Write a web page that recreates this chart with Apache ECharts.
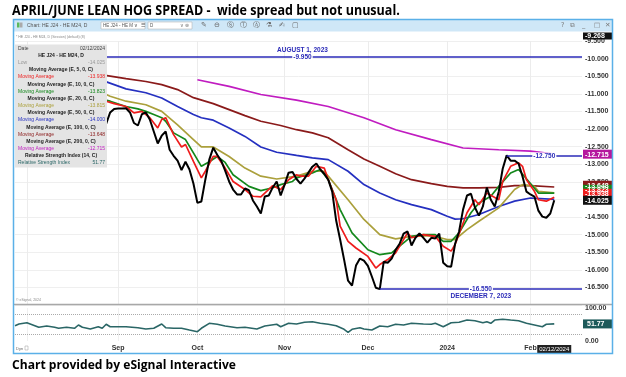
<!DOCTYPE html>
<html>
<head>
<meta charset="utf-8">
<script src="https://cdn.jsdelivr.net/npm/echarts@6/dist/echarts.min.js"></script>
<style>
html,body{margin:0;padding:0;background:#fff;}
#main{width:626px;height:377px;}
</style>
</head>
<body>
<div id="main"></div>
<script>
// trading days on the x axis
const firstDay = '2023-07-27';
const dayCount = 144;
const holidays = ['2023-09-04', '2023-11-23', '2023-12-25', '2024-01-01', '2024-01-15', '2024-02-19'];
const monthNames = ['Jan','Feb','Mar','Apr','May','Jun','Jul','Aug','Sep','Oct','Nov','Dec'];

// daily close HE J24 - HE M24, first value is trading day 23
const closeStart = 23;
const closeValues = [
  -11.85, -11.53, -11.43, -11.42, -11.42, -11.41, -11.53, -11.83, -11.90, -11.58,
  -11.53, -11.73, -12.07, -12.41, -12.19, -12.07, -12.59, -12.76, -12.90, -13.17,
  -12.93, -13.15, -13.55, -14.10, -14.06, -13.44, -12.87, -12.53, -12.73, -12.90,
  -13.18, -13.49, -13.72, -13.86, -13.86, -13.69, -13.74, -14.03, -14.20, -14.40,
  -13.92, -13.89, -13.66, -13.49, -13.89, -13.58, -13.24, -13.22, -13.42, -13.55,
  -13.41, -13.24, -13.07, -12.98, -13.15, -13.27, -13.44, -13.78, -14.60, -15.14,
  -15.71, -16.31, -16.45, -15.88, -15.68, -15.74, -15.89, -16.19, -16.51, -16.55,
  -15.77, -15.80, -15.68, -15.43, -15.26, -14.97, -14.91, -15.31, -15.09, -14.97,
  -15.09, -15.23, -15.09, -15.11, -14.97, -15.80, -15.90, -15.91, -15.26, -14.91,
  -14.29, -13.89, -13.84, -14.23, -14.46, -14.20, -13.66, -14.01, -14.20, -13.78,
  -13.13, -12.75, -12.90, -12.90, -12.98, -13.35, -13.78, -13.86, -13.92, -14.32,
  -14.49, -14.52, -14.40, -14.025
];

// moving averages: [trading day index, value]
const ema5 = [[23,-11.21],[25,-11.28],[28,-11.36],[30,-11.54],[32,-11.50],[34,-11.68],[36,-11.97],[37,-11.73],[38,-11.68],[40,-12.16],[42,-12.51],[43,-12.44],[45,-12.92],[47,-13.39],[48,-13.20],[50,-12.78],[51,-12.78],[53,-13.11],[55,-13.49],[58,-13.72],[60,-13.91],[62,-13.93],[63,-13.82],[65,-13.61],[67,-13.72],[69,-13.44],[71,-13.30],[72,-13.34],[74,-13.34],[76,-13.06],[78,-13.11],[79,-13.44],[81,-14.01],[82,-14.76],[84,-15.19],[86,-15.38],[89,-15.62],[91,-15.95],[92,-15.85],[94,-15.71],[96,-15.52],[99,-14.95],[100,-15.09],[103,-15.00],[106,-15.05],[108,-15.33],[110,-15.47],[111,-15.28],[114,-14.38],[116,-14.01],[117,-14.15],[119,-13.82],[122,-14.01],[123,-13.49],[125,-13.06],[127,-12.96],[128,-13.06],[129,-13.44],[131,-13.77],[132,-14.01],[134,-14.05],[136,-13.938]];
const ema10 = [[22,-11.16],[24,-11.21],[28,-11.36],[31,-11.43],[33,-11.50],[35,-11.59],[37,-11.68],[38,-11.78],[40,-12.11],[43,-12.30],[45,-12.68],[47,-13.06],[49,-12.93],[51,-12.78],[53,-12.95],[55,-13.30],[59,-13.63],[62,-13.75],[65,-13.67],[67,-13.58],[70,-13.49],[71,-13.39],[75,-13.25],[77,-13.15],[79,-13.44],[82,-14.29],[85,-14.95],[89,-15.43],[92,-15.57],[95,-15.52],[97,-15.33],[100,-15.05],[103,-15.00],[106,-15.00],[108,-15.19],[110,-15.19],[112,-14.95],[115,-14.38],[117,-14.10],[120,-13.91],[122,-13.63],[125,-13.25],[127,-13.15],[130,-13.55],[132,-13.82],[136,-13.823]];
const ema20 = [[22,-10.97],[24,-11.07],[28,-11.21],[33,-11.31],[37,-11.50],[41,-11.88],[45,-12.30],[47,-12.51],[50,-12.51],[54,-12.78],[58,-13.11],[62,-13.34],[66,-13.42],[71,-13.34],[75,-13.20],[78,-13.20],[79,-13.34],[84,-14.01],[88,-14.57],[92,-15.00],[96,-15.12],[100,-15.05],[105,-15.03],[109,-15.14],[111,-15.14],[114,-14.86],[117,-14.62],[122,-14.24],[126,-13.72],[128,-13.58],[131,-13.63],[132,-13.77],[136,-13.815]];
const ema50 = [[22,-10.62],[28,-10.86],[33,-10.97],[37,-11.12],[41,-11.36],[45,-11.59],[47,-11.68],[50,-11.75],[54,-11.97],[58,-12.21],[62,-12.51],[66,-12.66],[71,-12.75],[75,-12.82],[79,-12.87],[84,-13.20],[88,-13.58],[92,-13.82],[96,-14.01],[100,-14.15],[105,-14.29],[109,-14.48],[111,-14.56],[113,-14.55],[117,-14.43],[122,-14.20],[126,-14.05],[130,-13.96],[136,-14.00]];
const ema100 = [[22,-10.46],[28,-10.57],[33,-10.65],[37,-10.74],[41,-10.88],[45,-11.11],[50,-11.28],[54,-11.45],[58,-11.62],[62,-11.78],[67,-11.90],[71,-12.02],[75,-12.11],[79,-12.25],[84,-12.59],[88,-12.85],[92,-13.06],[96,-13.27],[100,-13.44],[105,-13.55],[109,-13.63],[113,-13.67],[117,-13.67],[122,-13.66],[126,-13.61],[130,-13.61],[136,-13.648]];
const ema200 = [[46,-10.60],[54,-10.79],[62,-11.02],[71,-11.18],[79,-11.36],[88,-11.68],[96,-12.02],[105,-12.30],[113,-12.54],[122,-12.59],[130,-12.63],[136,-12.715]];

// RSI(14): [trading day index, value]
const rsi14 = [[0,46.4],[1,51.5],[3,55.5],[5,46.4],[6,41.5],[8,45.5],[10,41.5],[11,38.5],[13,41.5],[15,38.5],[16,48.5],[17,41.5],[19,36.4],[21,43.3],[22,38.5],[23,50.6],[24,43.3],[26,43.3],[28,43.3],[31,40.3],[33,36.4],[35,38.5],[37,51.5],[38,40.3],[40,38.5],[42,38.5],[44,33.3],[46,28.2],[47,38.5],[49,53.6],[51,50.6],[53,45.5],[56,40.3],[58,41.5],[61,36.4],[63,45.5],[66,50.6],[67,43.3],[69,53.6],[71,51.5],[73,56.7],[75,58.5],[77,53.6],[79,50.6],[81,46.4],[83,35.5],[84,26.4],[85,35.5],[87,40.3],[88,36.4],[90,33.3],[92,45.5],[94,43.3],[96,50.6],[98,48.5],[100,53.6],[103,51.5],[105,50.6],[106,53.6],[108,43.3],[110,55.5],[112,56.7],[114,63.6],[116,61.5],[118,55.5],[119,58.5],[120,53.6],[121,63.6],[123,65.8],[125,63.6],[127,61.5],[129,53.6],[131,48.5],[133,43.3],[134,50.6],[136,51.77]];

// annotated levels: [trading day index, value]
const aug1High = [2, -9.95];
const dec7Low = [92, -16.55];
const janPeak = [124, -12.75];
const chartHigh = -9.268;

// build the trading day list
const dates = [];
(function () {
  const d = new Date(firstDay + 'T00:00:00Z');
  while (dates.length < dayCount) {
    const s = d.toISOString().slice(0, 10);
    const wd = d.getUTCDay();
    if (wd !== 0 && wd !== 6 && holidays.indexOf(s) < 0) dates.push(s);
    d.setUTCDate(d.getUTCDate() + 1);
  }
})();
const monthStart = dates.map((s, i) => i > 0 && s.slice(5, 7) !== dates[i - 1].slice(5, 7));
const lastIdx = dayCount - 1;
const closeIdx = closeStart + closeValues.length - 1;
const last = a => a[a.length - 1][1];

const C = {
  close: '#000000', e5: '#ee1c1c', e10: '#14881c', e20: '#aba03c',
  e50: '#2530c0', e100: '#8a1a1a', e200: '#c01cc0', rsi: '#2a6666', level: '#2b2bb8'
};
const axisFont = { fontFamily: 'Liberation Sans, Arial, sans-serif', fontSize: 7, fontWeight: 'bold', color: '#333' };

const chart = echarts.init(document.getElementById('main'), null, { renderer: 'canvas' });

function maLine(name, data, color, width) {
  return {
    name: name, type: 'line', data: data, xAxisIndex: 0, yAxisIndex: 0,
    symbol: 'none', connectNulls: true, silent: true,
    lineStyle: { color: color, width: width || 1.7 }, z: 3
  };
}
function levelLine(p) {
  return [{ coord: p }, { coord: [lastIdx, p[1]] }];
}

const option = {
  animation: false,
  backgroundColor: '#fff',
  grid: [
    { left: 15, right: 44, top: 41, height: 264 },
    { left: 15, right: 44, top: 308, height: 33 }
  ],
  xAxis: [
    {
      type: 'category', gridIndex: 0, data: dates, boundaryGap: false,
      axisLine: { show: false }, axisTick: { show: false }, axisLabel: { show: false },
      splitLine: { show: true, interval: i => monthStart[i], lineStyle: { color: '#ececec', width: 1 } }
    },
    {
      type: 'category', gridIndex: 1, data: dates, boundaryGap: false,
      axisLine: { show: false }, axisTick: { show: false },
      splitLine: { show: true, interval: i => monthStart[i], lineStyle: { color: '#f0f0f0', width: 1 } },
      axisLabel: Object.assign({
        margin: 4,
        interval: (i, v) => monthStart[i] && v.slice(5, 7) !== '08',
        formatter: v => v.slice(5, 7) === '01' ? v.slice(0, 4) : monthNames[+v.slice(5, 7) - 1]
      }, axisFont)
    }
  ],
  yAxis: [
    {
      type: 'value', gridIndex: 0, position: 'right', min: -17, max: -9.5, interval: 0.5,
      axisLine: { show: false }, axisTick: { show: false },
      splitLine: { lineStyle: { color: '#efefef', width: 1 } },
      axisLabel: Object.assign({ margin: 3, showMinLabel: false, formatter: v => v.toFixed(3) }, axisFont)
    },
    {
      type: 'value', gridIndex: 1, position: 'right', min: 0, max: 100, interval: 100,
      axisLine: { show: false }, axisTick: { show: false }, splitLine: { show: false },
      axisLabel: Object.assign({ margin: 3, formatter: v => v.toFixed(2) }, axisFont)
    }
  ],
  series: [
    maLine('EMA 200', ema200, C.e200),
    maLine('EMA 100', ema100, C.e100),
    maLine('EMA 50', ema50, C.e50),
    maLine('EMA 20', ema20, C.e20),
    maLine('EMA 10', ema10, C.e10),
    maLine('EMA 5', ema5, C.e5),
    {
      name: 'HE J24 - HE M24', type: 'line', xAxisIndex: 0, yAxisIndex: 0,
      data: closeValues.map((v, i) => [closeStart + i, v]),
      symbol: 'none', silent: true, z: 4,
      lineStyle: { color: C.close, width: 2 },
      markLine: {
        silent: true, symbol: 'none', animation: false,
        label: { show: false },
        lineStyle: { color: C.level, width: 1.6, type: 'solid' },
        data: [levelLine(aug1High), levelLine(dec7Low), levelLine(janPeak)]
      }
    },
    {
      name: 'RSI', type: 'line', xAxisIndex: 1, yAxisIndex: 1, data: rsi14,
      symbol: 'none', silent: true, connectNulls: true,
      lineStyle: { color: C.rsi, width: 1.6 },
      markLine: {
        silent: true, symbol: 'none', animation: false, label: { show: false },
        lineStyle: { color: '#aaa', width: 1, type: 'dotted' },
        data: [{ yAxis: 80 }, { yAxis: 20 }]
      }
    }
  ]
};
chart.setOption(option);

// ---- decorations, positioned from the library's scales where they belong to data
const px = p => chart.convertToPixel({ gridIndex: 0 }, p);
const g = [];
const TXT = 'Liberation Sans, Arial, sans-serif';
function text(x, y, s, o) {
  o = o || {};
  g.push({
    type: 'text', x: x, y: y, z: o.z || 100, silent: true, scaleX: o.sx || 1,
    style: {
      text: s, fill: o.fill || '#333', align: o.align || 'left', verticalAlign: 'middle',
      font: (o.bold ? 'bold ' : '') + (o.size || 7) + 'px ' + (o.family || TXT),
      backgroundColor: o.bg, padding: o.pad
    }
  });
}
function rect(x, y, w, h, fill, o) {
  o = o || {};
  g.push({
    type: 'rect', z: o.z || 100, silent: true, shape: { x: x, y: y, width: w, height: h },
    style: { fill: fill, stroke: o.stroke || null, lineWidth: o.lw || 1 }
  });
}

// level labels on the blue lines
function levelLabel(p, valueText, dateText, dateAbove) {
  const a = px(p), b = px([lastIdx, p[1]]);
  const cx = (a[0] + b[0]) / 2;
  text(cx, a[1] + 0.5, valueText, { align: 'center', bold: true, size: 6.5, fill: C.level, bg: '#fff', pad: [0, 1] });
  if (dateText) text(cx, a[1] + (dateAbove ? -6.5 : 7), dateText, { align: 'center', bold: true, size: 6.5, fill: C.level });
}
levelLabel(aug1High, aug1High[1].toFixed(3), 'AUGUST 1, 2023', true);
levelLabel(dec7Low, dec7Low[1].toFixed(3), 'DECEMBER 7, 2023', false);
levelLabel(janPeak, janPeak[1].toFixed(3), null);

// frame and toolbar
rect(13.5, 19.5, 599, 12, '#cfe7f7', { z: 90 });
g.push({ type: 'rect', z: 110, silent: true, shape: { x: 13.5, y: 19.5, width: 599, height: 334 }, style: { fill: null, stroke: '#5ab0e8', lineWidth: 1.5 } });
rect(17, 22.5, 2.5, 5, '#5cb85c', { z: 101 });
rect(20, 22.5, 2.5, 5, '#aaa', { z: 101 });
text(27, 25.5, 'Chart: HE J24 - HE M24, D', { size: 5, fill: '#555' });
rect(101, 22, 44, 7, '#fff', { stroke: '#aaa', lw: 0.5 });
text(103, 25.5, 'HE J24 - HE M \u2228  \u2630', { size: 4.5, fill: '#555' });
rect(148, 22, 44, 7, '#fff', { stroke: '#aaa', lw: 0.5 });
text(150, 25.5, 'D', { size: 4.5, fill: '#555' });
text(189, 25.5, '\u2228 \u2297', { size: 4.5, fill: '#777', align: 'right' });
['\u270E', '\u2296', '\u24C8', '\u24C9', '\u24B6', '\u2697', '\u270D', '\u25A2'].forEach((s, i) => {
  text(201 + i * 13, 25.5, s, { size: 7, fill: '#666', family: 'DejaVu Sans' });
});
[['?', 561], ['\u29C9', 570], ['_', 582], ['\u25A1', 594], ['\u2715', 605]].forEach(t => {
  text(t[1], 25.5, t[0], { size: 6.5, fill: '#777', family: 'DejaVu Sans' });
});
text(16, 37, '* HE J24 - HE M24, D (Session) (default) (8)', { size: 3.5, fill: '#888' });
text(16, 300, '\u00A9 eSignal, 2024', { size: 3.5, fill: '#888' });
text(16, 348.5, 'Dyn', { size: 4, fill: '#666' });
rect(25, 346, 3, 4, '#fff', { stroke: '#999', lw: 0.5 });

// pane separator
g.push({ type: 'line', z: 95, silent: true, shape: { x1: 14, y1: 304.5, x2: 612, y2: 304.5 }, style: { stroke: '#a8a8a8', lineWidth: 1.5 } });

// data window box
rect(15, 44.5, 92, 123, '#e4e4e4', { z: 100 });
const lgRows = [
  ['Date', '02/12/2024', '#444'],
  ['HE J24 - HE M24, D'],
  ['Low', closeValues[closeValues.length - 1].toFixed(3), '#999'],
  ['Moving Average (E, 5, 0, C)'],
  ['Moving Average', last(ema5).toFixed(3), C.e5],
  ['Moving Average (E, 10, 0, C)'],
  ['Moving Average', last(ema10).toFixed(3), C.e10],
  ['Moving Average (E, 20, 0, C)'],
  ['Moving Average', last(ema20).toFixed(3), C.e20],
  ['Moving Average (E, 50, 0, C)'],
  ['Moving Average', last(ema50).toFixed(3), C.e50],
  ['Moving Average (E, 100, 0, C)'],
  ['Moving Average', last(ema100).toFixed(3), C.e100],
  ['Moving Average (E, 200, 0, C)'],
  ['Moving Average', last(ema200).toFixed(3), C.e200],
  ['Relative Strength Index (14, C)'],
  ['Relative Strength Index', last(rsi14).toFixed(2), C.rsi]
];
lgRows.forEach((r, i) => {
  const y = 48.5 + i * 7.15;
  if (r.length === 1) {
    text(61, y, r[0], { align: 'center', bold: true, size: 5, fill: '#222', z: 101 });
  } else {
    text(18, y, r[0], { size: 5, fill: r[2], z: 101 });
    text(105, y, r[1], { size: 5, fill: r[2], align: 'right', z: 101 });
  }
});

// last value boxes on the price axis
function valueBox(yc, s, fill, h) {
  h = h || 9;
  rect(583, yc - h / 2, 29.5, h, fill, { z: 102 });
  text(585, yc + 0.5, s, { bold: true, size: 7, fill: '#fff', z: 103 });
}
valueBox(36, chartHigh.toFixed(3), '#111', 7);
valueBox(px([lastIdx, last(ema200)])[1], last(ema200).toFixed(3), '#b5179e');
const yClose = px([lastIdx, closeValues[closeValues.length - 1]])[1];
valueBox(yClose - 15, last(ema100).toFixed(3), C.e100);
valueBox(yClose - 11, last(ema10).toFixed(3), C.e10);
valueBox(yClose - 7, last(ema5).toFixed(3), C.e5);
valueBox(yClose, closeValues[closeValues.length - 1].toFixed(3), '#111');
const yRsi = chart.convertToPixel({ gridIndex: 1 }, [lastIdx, last(rsi14)])[1];
rect(583, yRsi - 4.5, 29.5, 9, '#1d5a5a', { z: 102 });
text(587, yRsi + 0.5, last(rsi14).toFixed(2), { bold: true, size: 7, fill: '#fff', z: 103 });

// date box on the time axis
const xLast = px([closeIdx, -14])[0];
rect(xLast - 17, 345, 34, 9, '#222', { z: 102 });
text(xLast, 349.5, '02/12/2024', { align: 'center', size: 6, fill: '#fff', z: 103 });

// title and credit
text(12, 11, 'APRIL/JUNE LEAN HOG SPREAD -  wide spread but not unusual.', { bold: true, size: 15, fill: '#000', sx: 0.835, family: 'Open Sans, sans-serif' });
text(12, 365, 'Chart provided by eSignal Interactive', { bold: true, size: 13, fill: '#000', sx: 0.93, family: 'Open Sans, sans-serif' });

chart.setOption({ graphic: { elements: g } });
</script>
</body>
</html>
